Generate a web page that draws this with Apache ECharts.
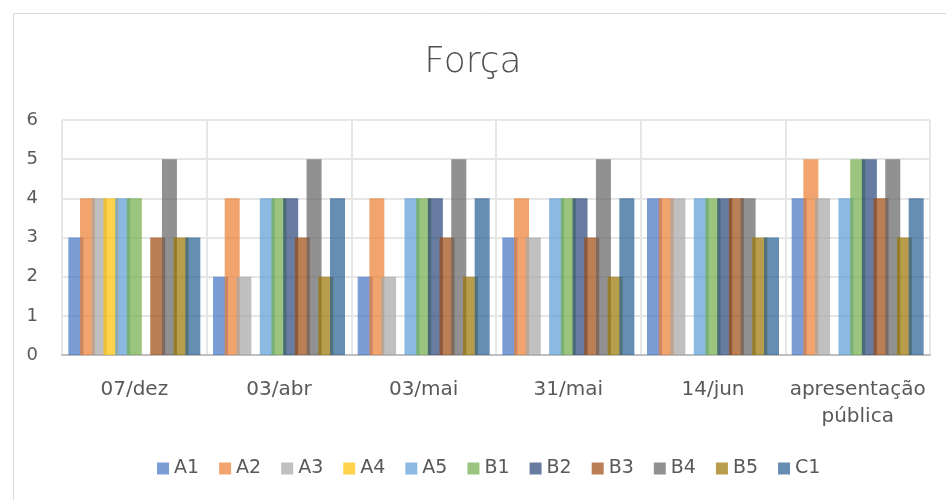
<!DOCTYPE html>
<html><head><meta charset="utf-8">
<script src="https://cdn.jsdelivr.net/npm/echarts@6/dist/echarts.min.js"></script>
<style>html,body{margin:0;padding:0;background:#fff}#c{width:946px;height:500px}</style>
</head><body><div id="c"></div>
<script>
var categories = ['07/dez','03/abr','03/mai','31/mai','14/jun','apresentação\npública'];
var seriesNames = ['A1','A2','A3','A4','A5','B1','B2','B3','B4','B5','C1'];
var colors = ['#4472C4','#ED7D31','#A5A5A5','#FFC000','#5B9BD5','#70AD47','#264478','#9E480E','#636363','#997300','#255E91'];
var A1 = [3,2,2,3,4,4];
var A2 = [4,4,4,4,4,5];
var A3 = [4,2,2,3,4,4];
var A4 = [4,0,0,0,0,0];
var A5 = [4,4,4,4,4,4];
var B1 = [4,4,4,4,4,5];
var B2 = [0,4,4,4,4,5];
var B3 = [3,3,3,3,4,4];
var B4 = [5,5,5,5,4,5];
var B5 = [3,2,2,2,3,3];
var C1 = [3,4,4,4,3,4];
var yTicks = [0,1,2,3,4,5,6];
var values = [A1,A2,A3,A4,A5,B1,B2,B3,B4,B5,C1];

var chart = echarts.init(document.getElementById('c'), null, {renderer:'canvas'});
var txt = '#595959';
var ff = 'DejaVu Sans';
chart.setOption({
  animation:false,
  color: colors,
  title:{text:'Força', left:'center', top:40, textStyle:{fontFamily:ff, fontSize:36, fontWeight:200, color:'#505050'}},
  graphic:[{type:'rect', shape:{x:13.5,y:13.5,width:950,height:500}, style:{fill:null, stroke:'#d9d9d9', lineWidth:1}, silent:true}],
  legend:{bottom:17, left:152, itemWidth:12, itemHeight:12, itemGap:20, icon:'rect',
    textStyle:{fontFamily:ff, fontSize:19, color:txt}, data:seriesNames},
  grid:{left:62, right:16, top:120, bottom:145},
  xAxis:{type:'category', data:categories,
    axisLine:{lineStyle:{color:'#bfbfbf', width:2}}, axisTick:{show:false},
    splitLine:{show:true, lineStyle:{color:'#e6e6e6', width:2}},
    axisLabel:{fontFamily:ff, fontSize:20, color:txt, margin:21, lineHeight:27, interval:0}},
  yAxis:{type:'value', min:0, max:6, interval:1,
    axisLine:{show:false}, axisTick:{show:false},
    splitLine:{lineStyle:{color:'#e6e6e6', width:2}},
    axisLabel:{fontFamily:ff, fontSize:18, color:txt, margin:24,
      formatter:function(v){return yTicks.indexOf(v)>=0?String(v):'';}}},
  series: seriesNames.map(function(n,i){
    return {name:n, type:'bar', data:values[i], barWidth:15, barGap:'-22%', itemStyle:{opacity:0.7}};
  })
});
</script></body></html>
